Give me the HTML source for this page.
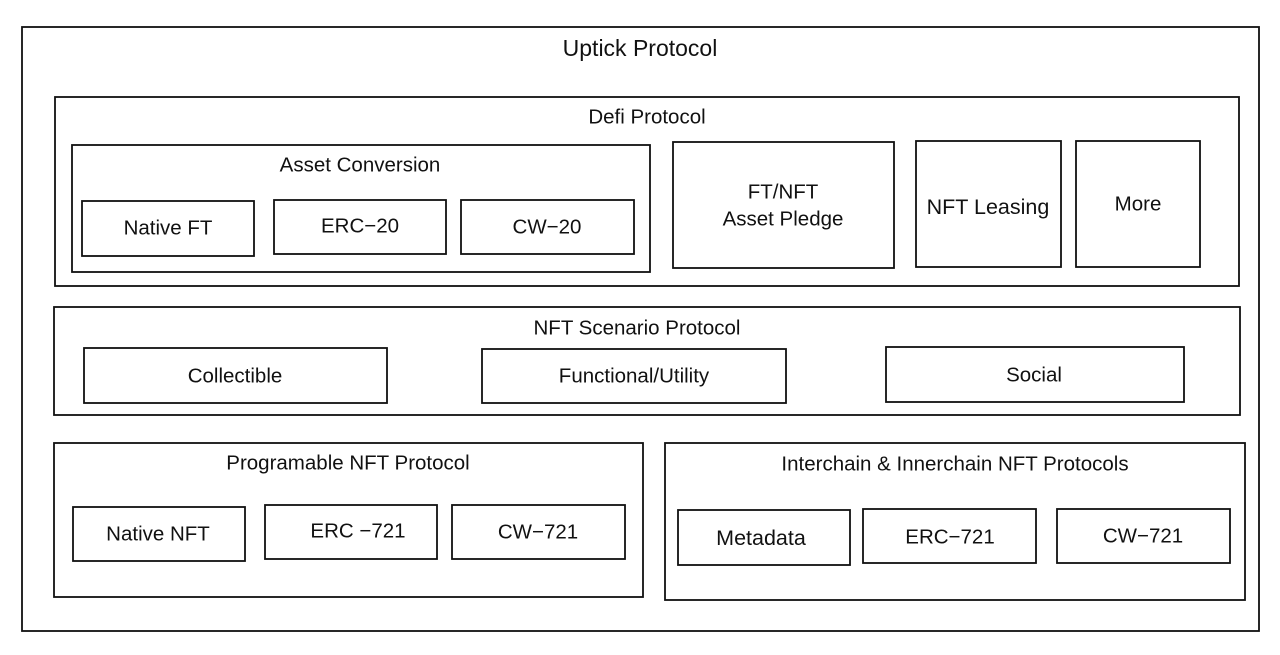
<!DOCTYPE html>
<html><head><style>body{margin:0;background:#fff}svg{display:block}text{font-family:"Liberation Sans",sans-serif;fill:#111;text-anchor:middle;dominant-baseline:central;font-size:20.5px}</style></head>
<body>
<svg width="1280" height="655" viewBox="0 0 1280 655">
<g fill="none" stroke="#111" stroke-width="1.8">
<rect x="22" y="27" width="1237" height="604"/>
<rect x="55" y="97" width="1184" height="189"/>
<rect x="72" y="145" width="578" height="127"/>
<rect x="82" y="201" width="172" height="55"/>
<rect x="274" y="200" width="172" height="54"/>
<rect x="461" y="200" width="173" height="54"/>
<rect x="673" y="142" width="221" height="126"/>
<rect x="916" y="141" width="145" height="126"/>
<rect x="1076" y="141" width="124" height="126"/>
<rect x="54" y="307" width="1186" height="108"/>
<rect x="84" y="348" width="303" height="55"/>
<rect x="482" y="349" width="304" height="54"/>
<rect x="886" y="347" width="298" height="55"/>
<rect x="54" y="443" width="589" height="154"/>
<rect x="73" y="507" width="172" height="54"/>
<rect x="265" y="505" width="172" height="54"/>
<rect x="452" y="505" width="173" height="54"/>
<rect x="665" y="443" width="580" height="157"/>
<rect x="678" y="510" width="172" height="55"/>
<rect x="863" y="509" width="173" height="54"/>
<rect x="1057" y="509" width="173" height="54"/>
</g>
<text x="640" y="48" style="font-size:23px">Uptick Protocol</text>
<text x="647" y="117">Defi Protocol</text>
<text x="360" y="165">Asset Conversion</text>
<text x="168" y="228">Native FT</text>
<text x="360" y="226">ERC−20</text>
<text x="547" y="227">CW−20</text>
<text x="783" y="192">FT/NFT</text>
<text x="783" y="219">Asset Pledge</text>
<text x="988" y="207" style="font-size:21.5px">NFT Leasing</text>
<text x="1138" y="204">More</text>
<text x="637" y="328">NFT Scenario Protocol</text>
<text x="235" y="376">Collectible</text>
<text x="634" y="376">Functional/Utility</text>
<text x="1034" y="375">Social</text>
<text x="348" y="463">Programable NFT Protocol</text>
<text x="158" y="534">Native NFT</text>
<text x="358" y="531">ERC −721</text>
<text x="538" y="532">CW−721</text>
<text x="955" y="464">Interchain &amp; Innerchain NFT Protocols</text>
<text x="761" y="538" style="font-size:21.5px">Metadata</text>
<text x="950" y="537">ERC−721</text>
<text x="1143" y="536">CW−721</text>
</svg>
</body></html>
